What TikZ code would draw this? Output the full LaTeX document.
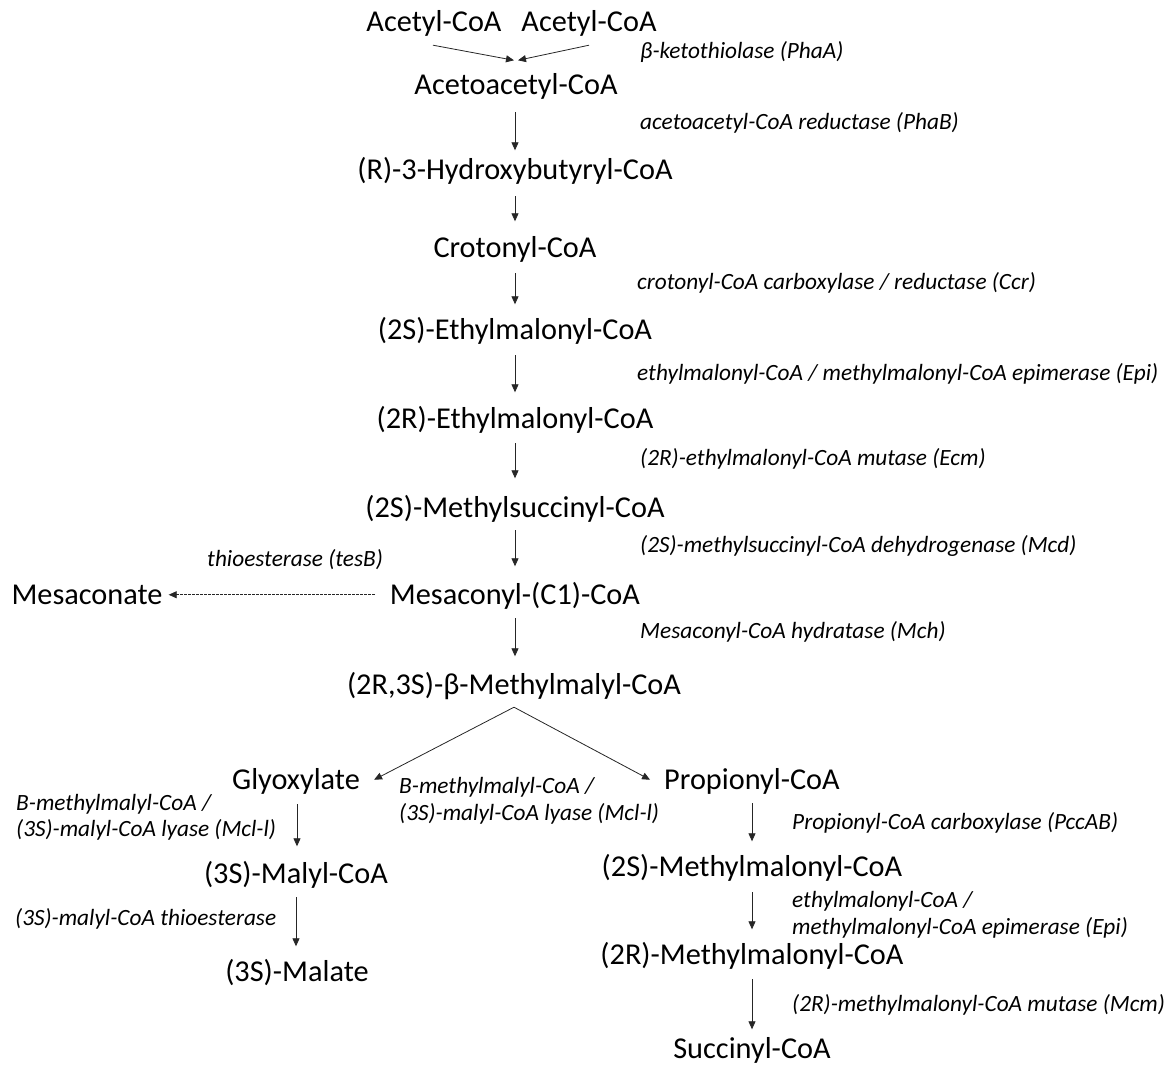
\documentclass[tikz,border=0pt]{standalone}
\usepackage{fontspec}
\setmainfont{Carlito}
\usetikzlibrary{arrows.meta}
\begin{document}
\begin{tikzpicture}[x=1pt,y=-1pt,
  met/.style={font=\fontsize{30.3}{36}\selectfont, inner sep=0pt, text height=18.5pt, text depth=0pt, anchor=base},
  enz/.style={font=\fontsize{23.3}{28}\selectfont\itshape, inner sep=0pt, anchor=base west},
  arr/.style={-{Triangle[length=8pt,width=7pt]}, line width=0.8pt, draw=black!85},
  darr/.style={arr, dash pattern=on 2.5pt off 1.5pt, line width=0.7pt}
]
\useasboundingbox (0,0) rectangle (1169,1070);

% metabolites
\node[met] (acA)  at (434,32)  {Acetyl-CoA};
\node[met] (acB)  at (589,32)  {Acetyl-CoA};
\node[met] (acac) at (516,95)  {Acetoacetyl-CoA};
\node[met] (hyd)  at (515,179) {(R)-3-Hydroxybutyryl-CoA};
\node[met] (cro)  at (515,257) {Crotonyl-CoA};
\node[met] (ems)  at (515,339) {(2S)-Ethylmalonyl-CoA};
\node[met] (emr)  at (515,428) {(2R)-Ethylmalonyl-CoA};
\node[met] (msc)  at (515,517) {(2S)-Methylsuccinyl-CoA};
\node[met] (mes)  at (515,604) {Mesaconyl-(C1)-CoA};
\node[met] (mcn)  at (87,604)  {Mesaconate};
\node[met] (mmc)  at (514,694) {(2R,3S)-β-Methylmalyl-CoA};
\node[met] (gly)  at (296,789) {Glyoxylate};
\node[met] (prp)  at (752,789) {Propionyl-CoA};
\node[met] (mal)  at (296,883) {(3S)-Malyl-CoA};
\node[met] (mla)  at (297,981) {(3S)-Malate};
\node[met] (smm)  at (752,876) {(2S)-Methylmalonyl-CoA};
\node[met] (rmm)  at (752,964) {(2R)-Methylmalonyl-CoA};
\node[met] (suc)  at (752,1058) {Succinyl-CoA};

% enzymes
\node[enz] (phaA) at (640,59)  {β-ketothiolase (PhaA)};
\node[enz] (phaB) at (640,130) {acetoacetyl-CoA reductase (PhaB)};
\node[enz] (ccr)  at (637,289) {crotonyl-CoA carboxylase / reductase (Ccr)};
\node[enz] (epi)  at (637,380) {ethylmalonyl-CoA / methylmalonyl-CoA epimerase (Epi)};
\node[enz] (ecm)  at (640,465) {(2R)-ethylmalonyl-CoA mutase (Ecm)};
\node[enz] (mcd)  at (640,552) {(2S)-methylsuccinyl-CoA dehydrogenase (Mcd)};
\node[enz] (tesB) at (207,566) {thioesterase (tesB)};
\node[enz] (mch)  at (640,638) {Mesaconyl-CoA hydratase (Mch)};
\node[enz] (mclLa) at (16,810) {B-methylmalyl-CoA /};
\node[enz] (mclLb) at (16,836) {(3S)-malyl-CoA lyase (Mcl-l)};
\node[enz] (mclCa) at (399,793) {B-methylmalyl-CoA /};
\node[enz] (mclCb) at (399,820) {(3S)-malyl-CoA lyase (Mcl-l)};
\node[enz] (mte)  at (15,925)  {(3S)-malyl-CoA thioesterase};
\node[enz] (pcc)  at (792,829) {Propionyl-CoA carboxylase (PccAB)};
\node[enz] (epiA) at (792,907) {ethylmalonyl-CoA /};
\node[enz] (epiB) at (792,934) {methylmalonyl-CoA epimerase (Epi)};
\node[enz] (mcm)  at (792,1011) {(2R)-methylmalonyl-CoA mutase (Mcm)};

% connectors
\draw[arr] ([xshift=-1pt,yshift=-13pt]acA.south) -- ([xshift=-2pt,yshift=16pt]acac.north);
\draw[arr] ([yshift=-13pt]acB.south) -- ([xshift=2pt,yshift=16pt]acac.north);
\draw[arr] ([xshift=-1pt,yshift=-17pt]acac.south) -- ([yshift=10pt]hyd.north);
\draw[arr] ([yshift=-17pt]hyd.south) -- ([yshift=17pt]cro.north);
\draw[arr] ([yshift=-16pt]cro.south) -- ([yshift=16pt]ems.north);
\draw[arr] ([yshift=-16pt]ems.south) -- ([yshift=17pt]emr.north);
\draw[arr] ([yshift=-15pt]emr.south) -- ([yshift=20pt]msc.north);
\draw[arr] ([yshift=-13pt]msc.south) -- ([yshift=19pt]mes.north);
\draw[arr] ([yshift=-14pt]mes.south) -- ([xshift=1pt,yshift=19pt]mmc.north);
\draw[darr] ([xshift=-15pt]mes.west) -- ([xshift=6pt]mcn.east);
\draw[arr] ([yshift=-13pt]mmc.south) -- ([xshift=14pt]gly.east);
\draw[arr] ([yshift=-13pt]mmc.south) -- ([xshift=-14pt]prp.west);
\draw[arr] ([xshift=1pt,yshift=-15pt]gly.south) -- ([xshift=1pt,yshift=18pt]mal.north);
\draw[arr] ([yshift=-14pt]mal.south) -- ([xshift=-1pt,yshift=16pt]mla.north);
\draw[arr] ([yshift=-14pt]prp.south) -- ([yshift=16pt]smm.north);
\draw[arr] ([yshift=-16pt]smm.south) -- ([yshift=16pt]rmm.north);
\draw[arr] ([yshift=-15pt]rmm.south) -- ([yshift=10pt]suc.north);
\end{tikzpicture}
\end{document}
